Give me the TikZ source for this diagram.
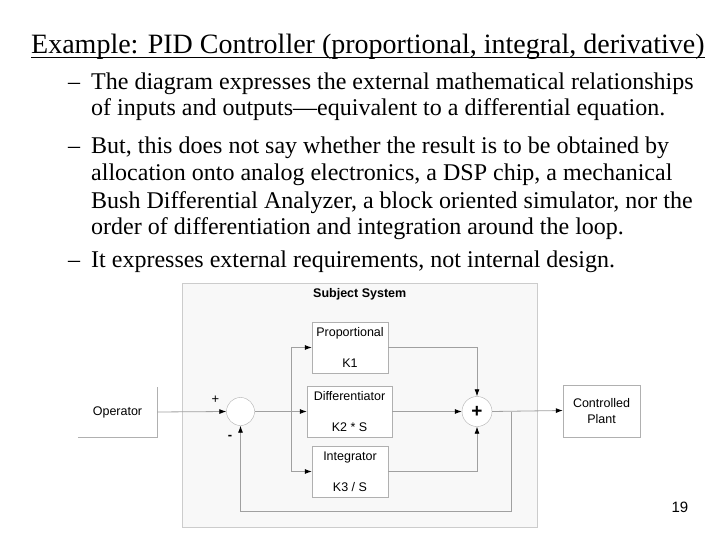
\documentclass[tikz,border=0pt]{standalone}
\usepackage{fontspec}
\setmainfont{Liberation Serif}
\newfontfamily\diagfont{Liberation Sans}
\usepackage{tikz}
\usetikzlibrary{arrows.meta}
\definecolor{LineGray}{RGB}{160,160,160}
\definecolor{BoxGray}{RGB}{176,176,176}
\definecolor{SysFill}{RGB}{248,248,248}
\definecolor{SysEdge}{RGB}{204,204,204}

\begin{document}
\begin{tikzpicture}[x=1pt,y=-1pt,
    txt/.style={anchor=base west,inner sep=0pt,font=\fontsize{24}{26}\selectfont},
    blk/.style={draw=BoxGray,fill=white,inner sep=0pt,align=center,font=\diagfont\fontsize{12.5}{15}\selectfont},
    sumnode/.style={circle,draw=BoxGray,fill=white,inner sep=0pt},
    wire/.style={draw=LineGray,line width=0.8pt},
    tip/.style={wire,-{Latex[length=7pt,width=5pt,color=black]}}]
      \useasboundingbox (0,0) rectangle (720,540);

      % slide text
      \node[anchor=base west,inner sep=0pt,font=\fontsize{28}{32}\selectfont] (title) at (31,54)
        {Example: PID Controller (proportional, integral, derivative)};
      \draw[line width=1.4pt] ([yshift=-3.5pt]title.base west) -- ([yshift=-3.5pt]title.base east);

      \node[txt] (d1) at (68,89.5) {--};
      \node[txt] (l1) at (91,89.5) {The diagram expresses the external mathematical relationships};
      \node[txt] (l2) at (91,116) {of inputs and outputs---equivalent to a differential equation.};
      \node[txt] (d2) at (68,154) {--};
      \node[txt] (l3) at (91,154) {But, this does not say whether the result is to be obtained by};
      \node[txt] (l4) at (91,181) {allocation onto analog electronics, a DSP chip, a mechanical};
      \node[txt] (l5) at (91,208) {Bush Differential Analyzer, a block oriented simulator, nor the};
      \node[txt] (l6) at (91,235) {order of differentiation and integration around the loop.};
      \node[txt] (d3) at (68,267) {--};
      \node[txt] (l7) at (91,267) {It expresses external requirements, not internal design.};

      % block diagram
      \fill[SysFill,draw=SysEdge] (182,283) rectangle (537,527);
      \node[anchor=base west,inner sep=0pt,font=\diagfont\bfseries\fontsize{12.5}{15}\selectfont]
        (sys) at (313,297.5) {Subject System};

      \node[blk,draw=none,fill=none,minimum width=79pt,minimum height=50pt] (op) at (117.5,412) {Operator};
      \draw[BoxGray,line width=0.8pt] (op.south west) -- (op.south east) -- (op.north east);

      \node[sumnode,minimum size=28pt] (sum1) at (240.5,411.5) {};
      \node[inner sep=0pt,font=\diagfont\fontsize{13}{15}\selectfont] (plus1) at (215.5,400) {+};
      \node[inner sep=0pt,font=\diagfont\bfseries\fontsize{13}{15}\selectfont] (minus1) at (230,437) {-};

      \node[blk,minimum width=76pt,minimum height=51pt] (prop) at (350,347.5) {Proportional\\[15.7pt]K1};
      \node[blk,minimum width=85pt,minimum height=51pt] (diff) at (349.5,411.5) {Differentiator\\[15.7pt]K2 * S};
      \node[blk,minimum width=76pt,minimum height=51pt] (integ) at (350,471.5) {Integrator\\[15.7pt]K3 / S};

      \node[sumnode,minimum size=30pt,font=\diagfont\bfseries\fontsize{19}{19}\selectfont] (sum2) at (477,411.5) {+};

      \node[blk,minimum width=77pt,minimum height=52pt,font=\diagfont\fontsize{12.5}{16.7}\selectfont]
        (plant) at (601.5,411) {Controlled\\Plant};

      \coordinate (split) at (291,411.5);
      \coordinate (tap) at (511.5,411.5);
      \coordinate (fb) at (511.5,511);

      \draw[tip] (op.east) -- (sum1.west);
      \draw[wire] (sum1.east) -- (split);
      \draw[tip] (split) -- (diff.west);
      \draw[wire] (split |- prop.west) -- (split |- integ.west);
      \draw[tip] (split |- prop.west) -- (prop.west);
      \draw[tip] (split |- integ.west) -- (integ.west);

      \draw[tip] (prop.east) -| (sum2.north);
      \draw[tip] (diff.east) -- (sum2.west);
      \draw[tip] (integ.east) -| (sum2.south);
      \draw[tip] (sum2.east) -- ([yshift=0.5pt]plant.west);
      \draw[tip] (tap) -- (fb) -| (sum1.south);

      \node[anchor=base east,inner sep=0pt,font=\diagfont\fontsize{15}{17}\selectfont] (pg) at (688.5,512.5) {19};
    \end{tikzpicture}
\end{document}
